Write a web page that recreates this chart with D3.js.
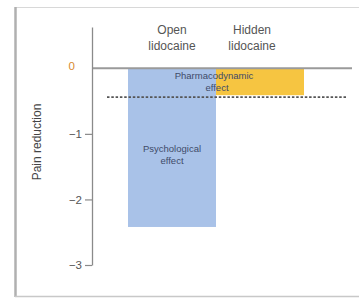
<!DOCTYPE html>
<html>
<head>
<meta charset="utf-8">
<script src="https://cdn.jsdelivr.net/npm/d3@7"></script>
<style>
  body { margin: 0; background: #fff; }
  svg { display: block; font-family: "Liberation Sans", Arial, sans-serif; }
</style>
</head>
<body>
<script>
var categories = ["Open lidocaine", "Hidden lidocaine"];
var barLabels = [["Psychological", "effect"], ["Pharmacodynamic", "effect"]];
var values = [-2.42, -0.41];
var dashedValue = -0.44;
var tickValues = [-3, -2, -1, 0];

var width = 359, height = 299;

var svg = d3.select("body").append("svg")
    .attr("width", width)
    .attr("height", height);

// frame
svg.append("rect")
    .attr("x", 15.5).attr("y", 7.5)
    .attr("width", 360).attr("height", 289)
    .attr("fill", "#fff")
    .attr("stroke", "#d8d8d8");
svg.append("line")
    .attr("x1", 15.5).attr("x2", 15.5).attr("y1", 7).attr("y2", 297)
    .attr("stroke", "#b0b0b0").attr("stroke-width", 2.5);
svg.append("line")
    .attr("x1", 15).attr("x2", 359).attr("y1", 296.5).attr("y2", 296.5)
    .attr("stroke", "#c8c8c8").attr("stroke-width", 1.5);

var yScale = d3.scaleLinear().domain([-3, 0.63]).range([265, 27]);
var xScale = d3.scaleBand().domain(categories).range([128, 304]).padding(0);

var colors = ["#a9c2e8", "#f6c541"];

// bars
svg.selectAll("rect.bar")
    .data(values)
    .enter()
    .append("rect")
    .attr("class", "bar")
    .attr("x", function(d, i) { return xScale(categories[i]); })
    .attr("width", xScale.bandwidth())
    .attr("y", yScale(0))
    .attr("height", function(d) { return yScale(d) - yScale(0); })
    .attr("fill", function(d, i) { return colors[i]; });

// zero line
svg.append("line")
    .attr("x1", 92).attr("x2", 352)
    .attr("y1", yScale(0)).attr("y2", yScale(0))
    .attr("stroke", "#9a9a9a").attr("stroke-width", 2);

// dashed line
svg.append("line")
    .attr("x1", 107).attr("x2", 347)
    .attr("y1", yScale(dashedValue)).attr("y2", yScale(dashedValue))
    .attr("stroke", "#555").attr("stroke-width", 1.8)
    .attr("stroke-dasharray", "2.5,1.8");

// y axis
var yAxis = d3.axisLeft(yScale).tickValues(tickValues).tickSize(7).tickSizeOuter(0)
    .tickFormat(function(d) { return d === 0 ? "0" : "\u2212" + Math.abs(d); });
var yAxisGroup = svg.append("g")
    .attr("transform", "translate(92,0)")
    .call(yAxis);
yAxisGroup.select(".domain").attr("stroke", "#8a8a8a").attr("stroke-width", 1.3);
yAxisGroup.selectAll(".tick line").attr("stroke", "#8a8a8a").attr("stroke-width", 1.2);
yAxisGroup.selectAll(".tick text")
    .attr("x", -10)
    .attr("font-size", 11.5)
    .attr("fill", function(d) { return d === 0 ? "#d78a2e" : "#555"; });
yAxisGroup.selectAll(".tick")
    .each(function(d) {
        if (d == 0) {
            d3.select(this).select("line").remove();
            d3.select(this).select("text").attr("x", -17).attr("dy", "0.1em");
        }
    });

// y axis title
svg.append("text")
    .attr("transform", "translate(41,142) rotate(-90)")
    .attr("text-anchor", "middle")
    .attr("font-size", 12)
    .attr("fill", "#444")
    .text("Pain reduction");

// category labels
svg.selectAll("text.cat")
    .data(categories)
    .enter()
    .append("text")
    .attr("class", "cat")
    .attr("x", function(d, i) { return xScale(d) + xScale.bandwidth() / 2 + (i ? -8 : 0); })
    .attr("y", 34)
    .attr("text-anchor", "middle")
    .attr("font-size", 12)
    .attr("fill", "#555")
    .each(function(d) {
        var parts = d.split(" ");
        d3.select(this).append("tspan").attr("x", d3.select(this).attr("x")).text(parts[0]);
        d3.select(this).append("tspan").attr("x", d3.select(this).attr("x")).attr("dy", 16).text(parts[1]);
    });

// bar labels
var labelPos = [[172, 152], [214, 79]];
barLabels.forEach(function(lines, i) {
    var t = svg.append("text")
        .attr("text-anchor", "middle")
        .attr("font-size", 9.5)
        .attr("fill", "#3f4b68")
        .attr("y", labelPos[i][1]);
    lines.forEach(function(s, j) {
        t.append("tspan")
            .attr("x", labelPos[i][0] + (j && i ? 3 : 0))
            .attr("dy", j ? 12 : 0)
            .text(s);
    });
});
</script>
</body>
</html>
